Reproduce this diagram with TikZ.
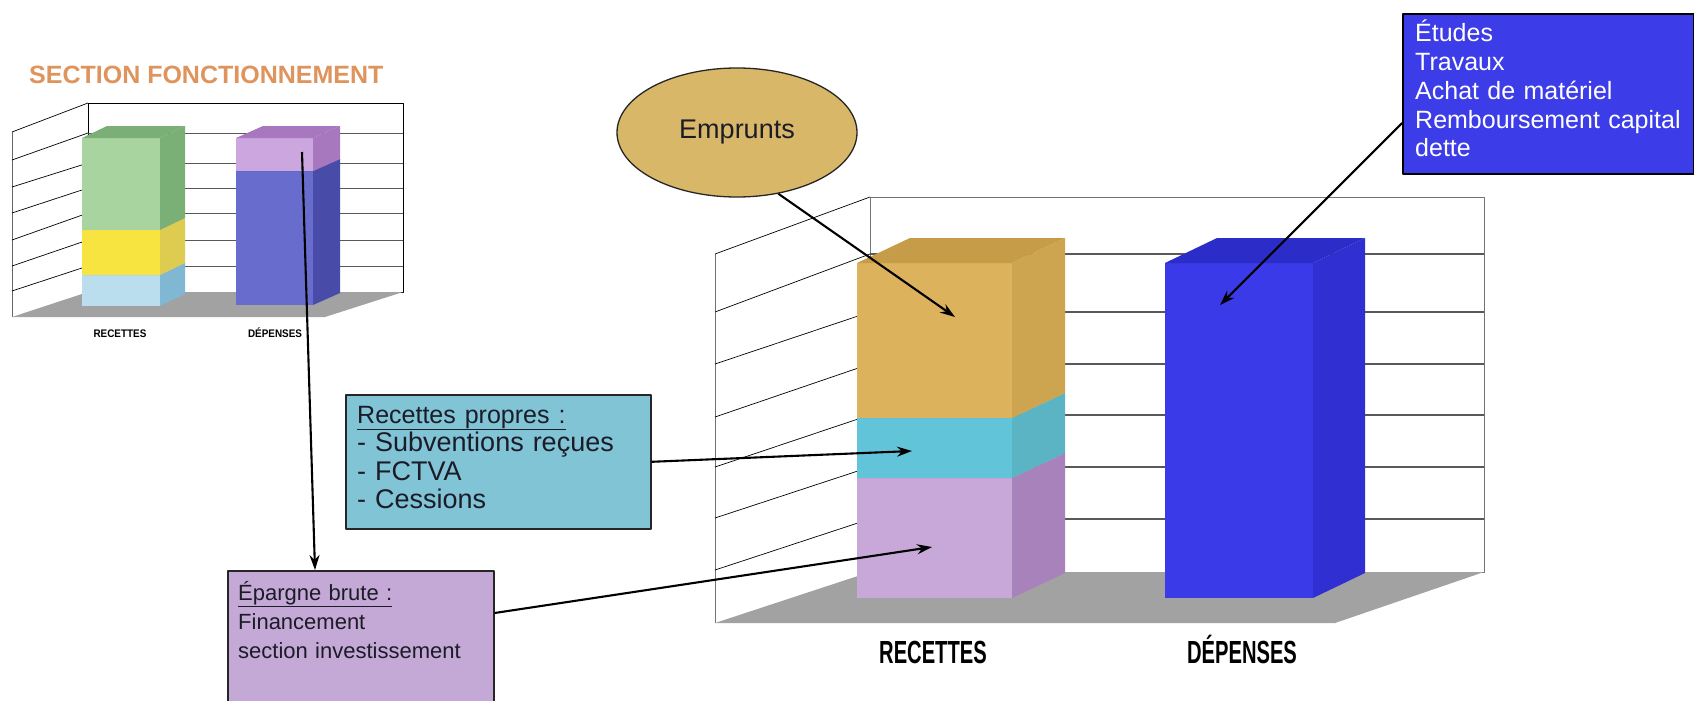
\documentclass[tikz,border=0pt]{standalone}
\usepackage{fontspec}
\setmainfont{Liberation Sans}
\usetikzlibrary{arrows.meta,shapes.geometric,calc}
\definecolor{floorgray}{RGB}{162,162,162}
\definecolor{titleorange}{RGB}{222,148,92}
\definecolor{goldF}{RGB}{220,178,92}
\definecolor{goldS}{RGB}{205,165,80}
\definecolor{goldT}{RGB}{198,156,72}
\definecolor{cyanF}{RGB}{98,196,216}
\definecolor{cyanS}{RGB}{90,180,196}
\definecolor{lilacF}{RGB}{200,168,216}
\definecolor{lilacS}{RGB}{168,130,186}
\definecolor{blueF}{RGB}{58,58,232}
\definecolor{blueS}{RGB}{48,48,210}
\definecolor{blueT}{RGB}{44,44,200}
\definecolor{sgreenF}{RGB}{168,212,160}
\definecolor{sgreenS}{RGB}{122,176,118}
\definecolor{syellowF}{RGB}{248,228,64}
\definecolor{syellowS}{RGB}{222,204,80}
\definecolor{slblueF}{RGB}{186,222,238}
\definecolor{slblueS}{RGB}{128,184,212}
\definecolor{slilacF}{RGB}{204,166,222}
\definecolor{slilacS}{RGB}{168,120,190}
\definecolor{sblueF}{RGB}{104,108,204}
\definecolor{sblueS}{RGB}{72,76,168}
\definecolor{recFill}{RGB}{128,196,214}
\definecolor{epFill}{RGB}{196,168,214}
\definecolor{etFill}{RGB}{60,60,232}
\definecolor{empFill}{RGB}{216,184,104}
\definecolor{darktxt}{RGB}{28,28,40}
% x1 x2 ytop ybot dx dy front side top
\newcommand\cubeseg[9]{%
  \fill[#7] (#1,#3) rectangle (#2,#4);
  \fill[#8] (#2,#3) -- (#2+#5,#3-#6) -- (#2+#5,#4-#6) -- (#2,#4) -- cycle;
  \fill[#9] (#1,#3) -- (#1+#5,#3-#6) -- (#2+#5,#3-#6) -- (#2,#3) -- cycle;}
\begin{document}
\begin{tikzpicture}[x=1pt,y=-1pt,line join=round,
  arr/.style={-{Stealth[length=15pt,width=10pt]},line width=2.1pt,black},
  wall/.style={draw=black!55,line width=0.9pt,fill=white},
  gridline/.style={draw=black!65,line width=1.6pt},
  sidegrid/.style={draw=black,line width=0.7pt},
  boxnode/.style={draw=black!85,line width=1.6pt,anchor=north west,inner sep=0pt},
  txt/.style={anchor=base west,align=left,inner sep=0pt},
  axislabel/.style={anchor=base,inner sep=0pt,font=\bfseries}]
\clip (0,0) rectangle (1694,701);
\fill[white] (0,0) rectangle (1694,701);

% ---------- small chart ----------
\node[anchor=base west,inner sep=0pt,font=\bfseries\fontsize{25}{25}\selectfont,text=titleorange] (title) at (29,83) {SECTION FONCTIONNEMENT};
\draw[wall,draw=black,line width=0.8pt] (88,103) rectangle (403,292);
\foreach \y in {133,163,188,213,240,266} \draw[gridline,line width=1pt] (88,\y) -- (403,\y);
\draw[black!60,line width=0.8pt] (12,132) -- (12,317);
\foreach \l/\r in {132/103,160/133,187/163,213/188,240/213,266/240,291/266}
  \draw[sidegrid] (12,\l) -- (88,\r);
\fill[floorgray] (12,317) -- (88,292) -- (403,292) -- (325,317) -- cycle;
\cubeseg{82}{160}{275}{306}{25}{12}{slblueF}{slblueS}{slblueS}
\cubeseg{82}{160}{230}{275}{25}{12}{syellowF}{syellowS}{syellowS}
\cubeseg{82}{160}{138}{230}{25}{12}{sgreenF}{sgreenS}{sgreenS}
\cubeseg{236}{313}{171}{305}{27}{12}{sblueF}{sblueS}{sblueS}
\cubeseg{236}{313}{138}{171}{27}{12}{slilacF}{slilacS}{slilacS}
\node[axislabel,font=\bfseries\fontsize{11}{11}\selectfont] (sR) at (120,337) {\scalebox{0.9}[1]{RECETTES}};
\node[axislabel,font=\bfseries\fontsize{11}{11}\selectfont] (sD) at (275,337) {\scalebox{0.9}[1]{DÉPENSES}};
\coordinate (fonctDep) at (302,152);

% ---------- big chart ----------
\draw[wall] (870,197) rectangle (1484,572);
\foreach \y in {254,312,364,415,467,519} \draw[gridline] (870,\y) -- (1484,\y);
\draw[black!55,line width=0.9pt] (715,254) -- (715,623);
\foreach \l/\r in {254/197,312/254,364/312,417/364,467/415,518/467,570/519}
  \draw[sidegrid] (715,\l) -- (870,\r);
\fill[floorgray] (715,623) -- (870,572) -- (1484,572) -- (1335,623) -- cycle;
\cubeseg{857}{1012}{478}{598}{53}{25}{lilacF}{lilacS}{lilacS}
\cubeseg{857}{1012}{418}{478}{53}{25}{cyanF}{cyanS}{cyanS}
\cubeseg{857}{1012}{263}{418}{53}{25}{goldF}{goldS}{goldT}
\cubeseg{1165}{1313}{263}{598}{52}{25}{blueF}{blueS}{blueT}
\node[axislabel,font=\bfseries\fontsize{32}{32}\selectfont] (bR) at (933,663) {\scalebox{0.63}[1]{RECETTES}};
\node[axislabel,font=\bfseries\fontsize{32}{32}\selectfont] (bD) at (1242,663) {\scalebox{0.63}[1]{DÉPENSES}};
\coordinate (tipGold) at (955,317);
\coordinate (tipCyan) at (912,451);
\coordinate (tipLilac) at (932,547);
\coordinate (tipBlue) at (1220,305);

% ---------- callouts ----------
\node[ellipse,draw=black!85,line width=1.3pt,fill=empFill,minimum width=240pt,minimum height=129pt,inner sep=0pt,
  font=\fontsize{27}{27}\selectfont,text=darktxt] (emprunts) at (737,132.5) {Emprunts};

\node[boxnode,fill=etFill,draw=black,minimum width=291pt,minimum height=160pt] (etudes) at (1402,13) {};
\node[txt,text width=280pt,text=white,font=\fontsize{25}{28.7}\selectfont] (etxt) at (1415,42)
  {Études\\Travaux\\Achat de matériel\\Remboursement capital\\dette};

\node[boxnode,fill=recFill,minimum width=305pt,minimum height=134pt] (recbox) at (345,394) {};
\node[txt,text width=290pt,text=darktxt,font=\fontsize{27}{28.5}\selectfont] (rectxt) at (357,423)
  {{\fontsize{25}{28.5}\selectfont\underline{Recettes propres :}}\\- Subventions reçues\\- FCTVA\\- Cessions};

\node[boxnode,fill=epFill,minimum width=266pt,minimum height=150pt] (epbox) at (227,570) {};
\node[txt,text width=255pt,text=darktxt,font=\fontsize{22}{29}\selectfont] (eptxt) at (238,600)
  {\underline{Épargne brute :}\\Financement\\section investissement};

% ---------- arrows ----------
\draw[arr] (emprunts.-56) -- (tipGold);
\draw[arr] ([yshift=-110pt]etudes.north west) -- (tipBlue);
\draw[arr] (recbox.east) -- (tipCyan);
\draw[arr] ([yshift=-43pt]epbox.north east) -- (tipLilac);
\draw[arr] (fonctDep) -- ([xshift=88pt]epbox.north west);
\end{tikzpicture}
\end{document}
